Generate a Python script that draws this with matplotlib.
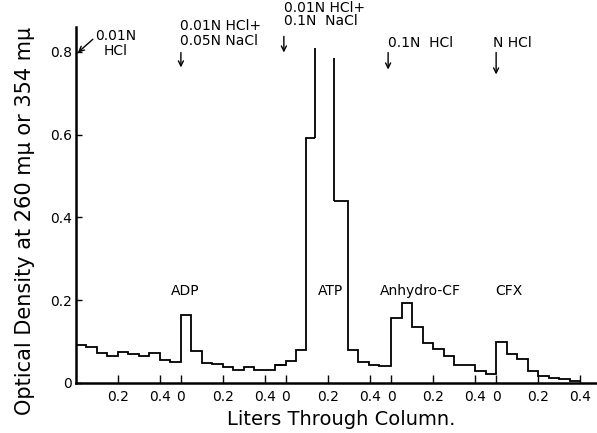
import matplotlib
matplotlib.use("Agg")
import matplotlib.pyplot as plt
import numpy as np

plt.rcParams['font.family'] = ['DejaVu Sans']

# ---- data (liters, cumulative across eluent changes; each eluent starts at 0) ----
seg_starts = [0.0, 0.5, 1.0, 1.5, 2.0]
bin_w = 0.05

# 0.01N HCl
seg1_vals = [0.092, 0.086, 0.073, 0.066, 0.076, 0.070, 0.065, 0.072, 0.056, 0.051]
# 0.01N HCl + 0.05N NaCl (ADP)
seg2_vals = [0.163, 0.078, 0.049, 0.047, 0.038, 0.031, 0.038, 0.031, 0.031, 0.044]
# 0.01N HCl + 0.1N NaCl (ATP) -- irregular fractions
seg3a_edges = [1.0, 1.05, 1.095, 1.14]
seg3a_vals = [0.054, 0.080, 0.592]
peak_left_x, peak_left_top = 1.14, 0.81      # off-scale peak (left edge)
peak_right_x, peak_right_top = 1.23, 0.785   # off-scale peak (right edge)
seg3b_edges = [1.23, 1.295, 1.345, 1.395, 1.445, 1.5]
seg3b_vals = [0.44, 0.080, 0.050, 0.044, 0.040]
# 0.1N HCl (Anhydro-CF)
seg4_vals = [0.157, 0.194, 0.135, 0.097, 0.083, 0.064, 0.043, 0.043, 0.030, 0.021]
# N HCl (CFX)
seg5_vals = [0.098, 0.071, 0.057, 0.030, 0.018, 0.012, 0.009, 0.006]

xtick_pos = [0.2, 0.4, 0.5, 0.7, 0.9, 1.0, 1.2, 1.4, 1.5, 1.7, 1.9, 2.0, 2.2, 2.4]
xtick_lbl = ["0.2", "0.4", "0", "0.2", "0.4", "0", "0.2", "0.4", "0", "0.2", "0.4", "0", "0.2", "0.4"]
ytick_pos = [0, 0.2, 0.4, 0.6, 0.8]
ytick_lbl = ["0", "0.2", "0.4", "0.6", "0.8"]

peak_labels = ["ADP", "ATP", "Anhydro-CF", "CFX"]
peak_label_x = [0.519, 1.21, 1.638, 2.062]
peak_label_y = 0.222

eluents = ["0.01N\nHCl", "0.01N HCl+\n0.05N NaCl", "0.01N HCl+\n0.1N  NaCl", "0.1N  HCl", "N HCl"]

# ---- figure ----
fig = plt.figure(figsize=(5.97, 4.33), dpi=100)
ax = fig.add_axes([0.127, 0.1155, 0.873, 0.8225])

lw = 1.3
col = "black"

def uniform_edges(start, n):
    return [start + i * bin_w for i in range(n + 1)]

# segment 1 and 2 drawn continuously
e12 = uniform_edges(0.0, len(seg1_vals) + len(seg2_vals))
ax.stairs(seg1_vals + seg2_vals, e12, baseline=None, color=col, lw=lw)
# join segment 2 to 3a
ax.stairs([seg2_vals[-1]] + seg3a_vals, [0.95] + seg3a_edges, baseline=None, color=col, lw=lw)
# off-scale ATP peak edges
ax.vlines(peak_left_x, seg3a_vals[-1], peak_left_top, color=col, lw=lw)
ax.vlines(peak_right_x, seg3b_vals[0], peak_right_top, color=col, lw=lw)
# 3b + 4 + 5
e4 = uniform_edges(1.5, len(seg4_vals))
e5 = uniform_edges(2.0, len(seg5_vals))
ax.stairs(seg3b_vals + seg4_vals + seg5_vals, seg3b_edges + e4[1:] + e5[1:],
          baseline=None, color=col, lw=lw)

ax.set_xlim(0, 2.48)
ax.set_ylim(0, 0.86)
ax.spines['top'].set_visible(False)
ax.spines['right'].set_visible(False)
for s in ['left', 'bottom']:
    ax.spines[s].set_linewidth(1.8)

ax.set_xticks(xtick_pos)
ax.set_xticklabels(xtick_lbl, fontsize=10)
ax.set_yticks(ytick_pos)
ax.set_yticklabels(ytick_lbl, fontsize=10)
ax.tick_params(axis='x', direction='in', length=6, width=1, pad=5)
ax.tick_params(axis='y', direction='in', length=4, width=1, pad=3)

ax.set_xlabel("Liters Through Column.", fontsize=14)
ax.xaxis.set_label_coords(0.51, -0.075)
ax.set_ylabel("Optical Density at 260 m\u03bc or 354 m\u03bc", fontsize=15)
ax.yaxis.set_label_coords(-0.078, 0.455)

for lbl, x in zip(peak_labels, peak_label_x):
    ax.text(x, peak_label_y, lbl, ha='center', va='center', fontsize=10)

arrow = dict(arrowstyle='->', lw=1, color=col, shrinkA=0, shrinkB=0,
             mutation_scale=9)

# eluent annotations
ax.annotate("", xy=(0.01, 0.798), xytext=(0.081, 0.83), arrowprops=arrow, annotation_clip=False)
ax.text(0.19, 0.82, eluents[0], ha='center', va='center', fontsize=10,
        linespacing=1.1, clip_on=False)

ax.annotate("", xy=(0.5, 0.762), xytext=(0.5, 0.798), arrowprops=arrow, annotation_clip=False)
ax.text(0.495, 0.844, eluents[1], ha='left', va='center', fontsize=10,
        linespacing=1.1, clip_on=False)

ax.annotate("", xy=(0.99, 0.798), xytext=(0.99, 0.837), arrowprops=arrow, annotation_clip=False)
ax.text(0.99, 0.89, eluents[2], ha='left', va='center', fontsize=10,
        linespacing=0.95, clip_on=False)

ax.annotate("", xy=(1.486, 0.757), xytext=(1.486, 0.798), arrowprops=arrow, annotation_clip=False)
ax.text(1.486, 0.822, eluents[3], ha='left', va='center', fontsize=10, clip_on=False)

ax.annotate("", xy=(2.0, 0.745), xytext=(2.0, 0.798), arrowprops=arrow, annotation_clip=False)
ax.text(1.986, 0.822, eluents[4], ha='left', va='center', fontsize=10, clip_on=False)

fig.savefig("out.png", dpi=100)
